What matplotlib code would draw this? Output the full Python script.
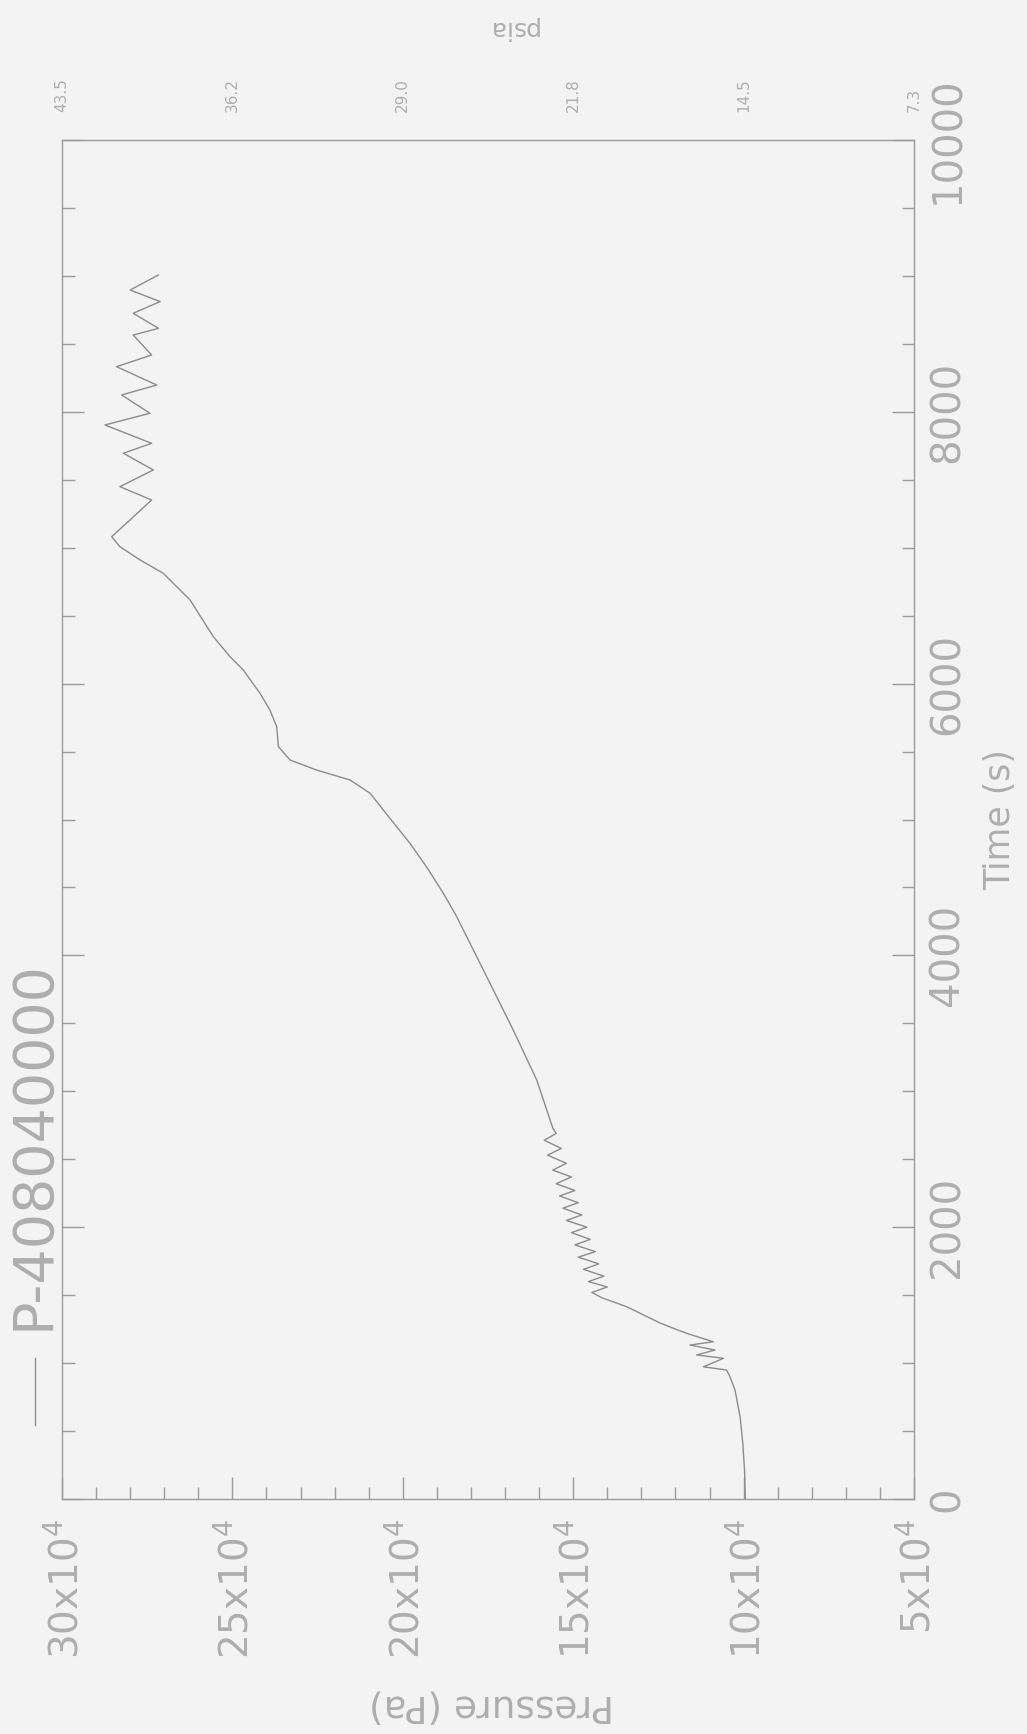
import numpy as np
import matplotlib
matplotlib.use("Agg")
import matplotlib.pyplot as plt
from matplotlib.lines import Line2D

plt.rcParams['font.family'] = ['DejaVu Sans']
plt.rcParams['mathtext.default'] = 'regular'

# time (s) and pressure (x 10^4 Pa)
time_s = [0, 200, 400, 600, 800, 900, 949, 973, 1035, 1060, 1096, 1133, 1157, 1219,
          1260, 1295, 1350, 1415,
          1480, 1520, 1560, 1600, 1640, 1690, 1730, 1780, 1820, 1870, 1910, 1960,
          2000, 2050, 2090, 2140, 2180, 2230, 2270, 2320, 2370, 2420, 2470, 2530,
          2580, 2640, 2690, 2730,
          3083, 3451, 3819, 4050, 4300, 4457, 4650, 4825, 5000, 5193, 5291, 5364,
          5438, 5536, 5683, 5806, 5929, 6100, 6198, 6345, 6615, 6812, 6910, 7007,
          7081, 7351, 7449, 7572, 7695, 7768, 7903, 7989, 8124, 8197, 8332, 8418,
          8565, 8614, 8725, 8811, 8896, 9007]
pressure = [9.95, 9.97, 10.02, 10.1, 10.25, 10.4, 10.50, 11.18, 10.59, 11.38, 10.84, 11.57, 10.89, 11.67,
            12.1, 12.45, 12.9, 13.43,
            14.15, 14.45, 14.0, 14.55, 14.1, 14.7, 14.25, 14.85, 14.35, 14.95, 14.5, 15.05,
            14.6, 15.2, 14.75, 15.3, 14.85, 15.4, 14.95, 15.5, 15.05, 15.6, 15.2, 15.75,
            15.35, 15.85, 15.5, 15.6,
            16.07, 16.76, 17.49, 17.95, 18.45, 18.81, 19.3, 19.79, 20.35, 20.96, 21.55, 22.53,
            23.31, 23.65, 23.70, 23.9, 24.19, 24.68, 25.07, 25.56, 26.24, 27.03, 27.71, 28.3,
            28.54, 27.37, 28.30, 27.32, 28.20, 27.37, 28.74, 27.42, 28.25, 27.22, 28.40, 27.37,
            27.91, 27.17, 27.91, 27.12, 28.00, 27.17]

pa_ticks = [30, 25, 20, 15, 10, 5]
pa_labels = ["30x10$^4$", "25x10$^4$", "20x10$^4$", "15x10$^4$", "10x10$^4$", "5x10$^4$"]
psia_labels = ["43.5", "36.2", "29.0", "21.8", "14.5", "7.3"]
time_ticks = [0, 2000, 4000, 6000, 8000, 10000]

bg = '#f3f3f3'
txt = '#aeaeae'
axc = '#9c9c9c'

fig = plt.figure(figsize=(10.27, 17.34), dpi=100, facecolor=bg)
ax = fig.add_axes([62 / 1027, 1 - 1499 / 1734, 852 / 1027, 1359 / 1734])
ax.set_facecolor(bg)

ax.plot(pressure, time_s, color='#8c8c8c', lw=1.0)

ax.set_xlim(30, 5)
ax.set_ylim(0, 10000)
for s in ax.spines.values():
    s.set_color(axc)
    s.set_linewidth(1.0)

ax.set_xticks(pa_ticks)
ax.set_xticks(np.arange(5, 31, 1), minor=True)
# anchor on the digits so the superscript hangs off to the left of the tick
ax.set_xticklabels(pa_labels, rotation=90, fontsize=28, color=txt,
                   rotation_mode='anchor', ha='right', va='center_baseline')
ax.set_yticks(time_ticks)
ax.set_yticks(np.arange(0, 10001, 500), minor=True)
ax.set_yticklabels([str(v) for v in time_ticks], rotation=90, fontsize=29, color=txt,
                   va='center')
ax.tick_params(which='both', direction='in', top=True, right=True, left=True, bottom=True,
               color=axc, labelleft=False, labelright=True)
ax.tick_params(which='major', length=16, width=1.0)
ax.tick_params(which='minor', length=9, width=1.0)
ax.tick_params(axis='x', pad=14)
ax.tick_params(axis='y', pad=10)

ax.set_xlabel('Pressure (Pa)', rotation=180, fontsize=27, color=txt, va='center', ha='center')
ax.xaxis.set_label_coords((491 - 62) / 852, (1499 - 1705) / 1359)
ax.yaxis.set_label_position('right')
ax.set_ylabel('Time (s)', rotation=90, fontsize=25, color=txt, va='center', ha='center')
ax.yaxis.set_label_coords((1000 - 62) / 852, 0.5)

# psia scale on top
ax2 = ax.twiny()
ax2.set_xlim(ax.get_xlim())
ax2.set_xticks(pa_ticks)
ax2.set_xticklabels(psia_labels, rotation=90, fontsize=11, color=txt)
ax2.tick_params(length=0, pad=20)
for s in ax2.spines.values():
    s.set_visible(False)
ax2.set_xlabel('psia', rotation=180, fontsize=18, color=txt, va='center', ha='center')
ax2.xaxis.set_label_coords((512 - 62) / 852, (1499 - 28) / 1359)

# legend, rotated with the chart
fig.add_artist(Line2D([35 / 1027, 35 / 1027], [1 - 1358 / 1734, 1 - 1425 / 1734],
                      color='#8c8c8c', lw=1.0, transform=fig.transFigure))
fig.text(33 / 1027, 1 - 1145 / 1734, 'P-408040000', rotation=90, fontsize=40, color=txt,
         ha='center', va='center')

fig.savefig('out.png', dpi=100, facecolor=bg)
